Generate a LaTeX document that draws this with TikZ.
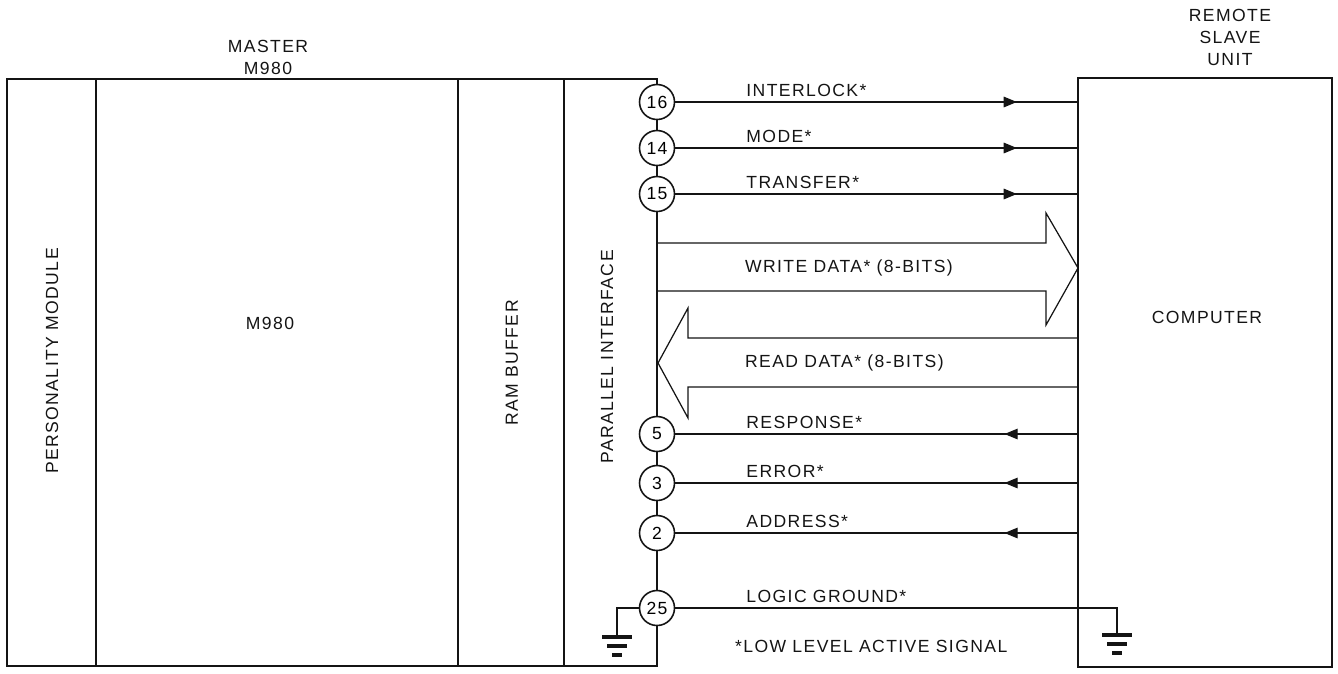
\documentclass[tikz,border=0pt]{standalone}
\usepackage{fontspec}
\setmainfont{Liberation Sans}[LetterSpace=8]
\usepackage{tikz}
\usetikzlibrary{arrows.meta, calc, positioning, decorations.markings}
\definecolor{inkblack}{RGB}{20, 20, 20}
\newcommand{\lbl}{\fontsize{10}{12.5}\selectfont}

\tikzset{
  frame/.style={inkblack, line width=1.5pt},
  divider/.style={inkblack, line width=0.6pt},
  bus/.style={inkblack, line width=1.6pt},
  sig/.style={inkblack, line width=0.7pt},
  pin/.style={circle, draw=inkblack, line width=0.9pt, minimum size=0.7cm,
              inner sep=0pt, fill=white, font=\lbl},
  txt/.style={inkblack, font=\lbl, inner sep=1pt},
  fwd/.style={sig, postaction={decorate}, decoration={markings,
      mark=at position 0.851 with {\arrow{Triangle[length=7.5pt, width=6pt]}}}},
  back/.style={sig, postaction={decorate}, decoration={markings,
      mark=at position 0.18 with {\arrow{Triangle[length=7.5pt, width=6pt]}}}},
  earth/.pic={\draw[inkblack, line width=1.8pt]
      (-15,0) -- (15,0) (-10,9) -- (10,9) (-5,18) -- (5,18);}
}

\begin{document}
\begin{tikzpicture}[x=0.02cm, y=-0.02cm]
  \useasboundingbox (0,0) rectangle (1338,673);
  %--- connector pins on the bus -------------------------------------------
  \foreach \p/\y in {16/102, 14/148, 15/194, 5/434, 3/483, 2/533, 25/608}
    \node[pin] (p\p) at (657,\y) {\p};
  %--- master M980 ----------------------------------------------------------
  \draw[frame] (p16.north) |- (7,79) |- (657,666) -- (p25.south);
  \foreach \x in {96, 458, 564}
    \draw[divider] (\x,79) -- (\x,666);
  \draw[bus] (p16) -- (p14) (p14) -- (p15) (p15) -- (p5)
             (p5) -- (p3) (p3) -- (p2) (p2) -- (p25);
  \node[txt, align=center] (master) at (268,57) {MASTER\\M980};
  \node[txt, rotate=90] (persmod) at (52,361) {PERSONALITY MODULE};
  \node[txt] (m980) at (270,323) {M980};
  \node[txt, rotate=90] (rambuf) at (512,363) {RAM BUFFER};
  \node[txt, rotate=90] (parif) at (607,357) {PARALLEL INTERFACE};
  %--- remote slave unit ----------------------------------------------------
  \node[draw=inkblack, line width=1.5pt, minimum width=5.08cm,
        minimum height=11.78cm, inner sep=0pt] (slave) at (1205,372.5) {};
  \node[txt, align=center] (remote) at (1230,37) {REMOTE\\SLAVE\\UNIT};
  \node[txt] (comp) at (1207,317) {COMPUTER};
  %--- control lines --------------------------------------------------------
  \foreach \p/\lab in {16/INTERLOCK*, 14/MODE*, 15/TRANSFER*}{
    \draw[fwd] (p\p.east) -- (p\p.east -| slave.west);
    \node[txt, anchor=south west] (l\p) at ($(p\p.east)+(69,-3)$) {\lab};
  }
  \foreach \p/\lab in {5/RESPONSE*, 3/ERROR*, 2/ADDRESS*}{
    \draw[back] (p\p.east -| slave.west) -- (p\p.east);
    \node[txt, anchor=south west] (l\p) at ($(p\p.east)+(69,-3)$) {\lab};
  }
  %--- data buses -----------------------------------------------------------
  \draw[sig] (658,243) -- ++(388,0) -- ++(0,-30) -- (1078,268)
    -- (1046,325) -- ++(0,-34) -- (658,291);
  \node[txt, anchor=west] (wdata) at (743,268) {WRITE DATA* (8-BITS)};
  \draw[sig] (1078,338) -- (688,338) -- ++(0,-30) -- (658,363)
    -- (688,418) -- ++(0,-31) -- (1078,387);
  \node[txt, anchor=west] (rdata) at (743,363) {READ DATA* (8-BITS)};
  %--- logic ground ---------------------------------------------------------
  \coordinate (gl) at (617,637);
  \coordinate (gr) at (1117,635);
  \draw[sig] (p25.east) -| (gr);
  \draw[sig] (p25.west) -| (gl);
  \pic at (gl) {earth};
  \pic at (gr) {earth};
  \node[txt, anchor=south west] (l25) at ($(p25.east)+(69,-3)$) {LOGIC GROUND*};
  \node[txt, anchor=west] (note) at (733,646) {*LOW LEVEL ACTIVE SIGNAL};
\end{tikzpicture}
\end{document}
